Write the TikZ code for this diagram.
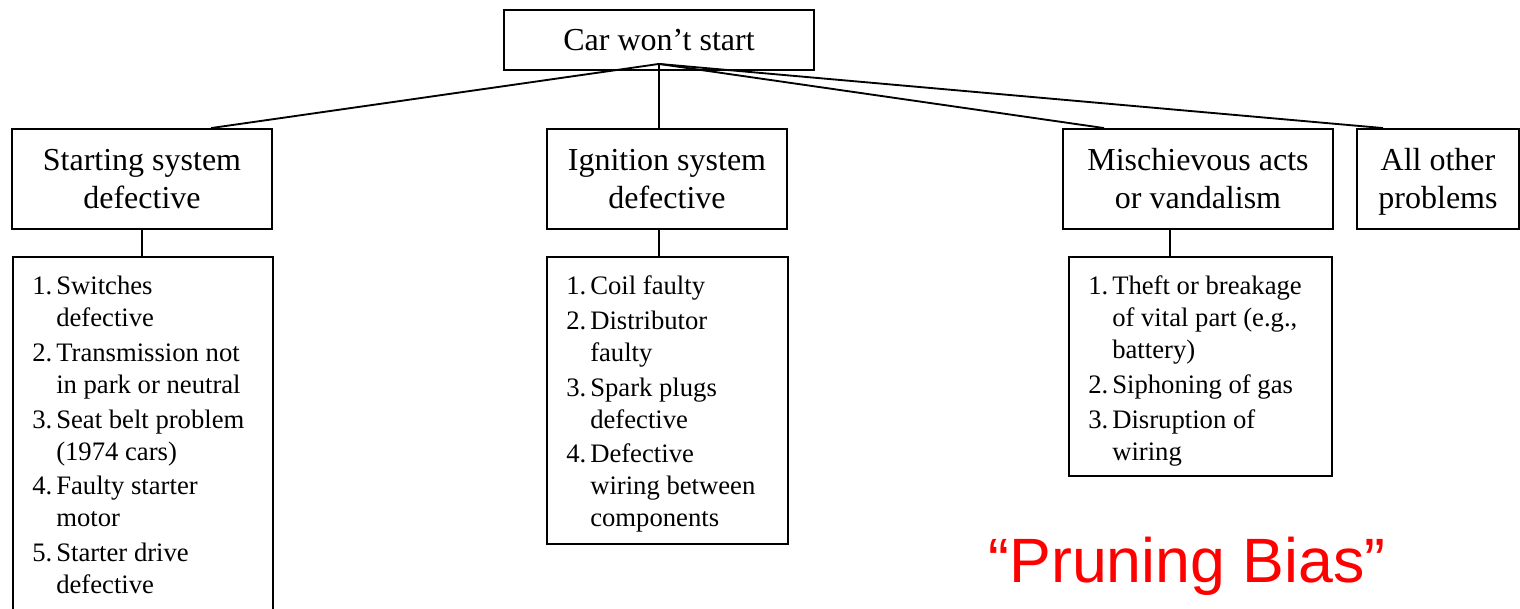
\documentclass[tikz,border=0pt]{standalone}
\usepackage{fontspec}
\setmainfont{Liberation Serif}
\newfontfamily\redfont{Liberation Sans}
\usetikzlibrary{calc}
\newcommand{\tstrut}{\rule[-0.3\baselineskip]{0pt}{\dimexpr0.7\baselineskip+0.3\baselineskip+4.5pt\relax}}
\tikzset{
  box/.style={draw, line width=1.4pt, inner sep=0pt, align=center,
    font=\fontsize{24}{28.5}\selectfont},
  listbox/.style={draw, line width=1.4pt, inner sep=0pt, anchor=north west},
  listtext/.style={inner sep=0pt, anchor=north west, align=left,
    font=\fontsize{20}{24}\selectfont},
  conn/.style={line width=1.4pt}
}
\begin{document}
\begin{tikzpicture}[x=0.75pt, y=-0.75pt]
\useasboundingbox (0,0) rectangle (1520,608);
\begin{scope}
\clip (0,0) rectangle (1520,608);
% top
\node[box, minimum width=232.5pt, minimum height=45pt] (top) at (659,40) {\tstrut Car won’t start};
% level 1
\node[box, minimum width=195pt, minimum height=75pt] (st) at (142,179) {\tstrut Starting system\\defective\strut};
\node[box, minimum width=180pt, minimum height=75pt] (ig) at (667,179) {\tstrut Ignition system\\defective\strut};
\node[box, minimum width=202.5pt, minimum height=75pt] (mi) at (1198,179) {\tstrut Mischievous acts\\or vandalism\strut};
\node[box, minimum width=121.5pt, minimum height=75pt] (ao) at (1438,179) {\tstrut All other\\problems\strut};
% list boxes
\node[listbox, minimum width=195pt, minimum height=300pt] (l1) at (12,256) {};
\node[listbox, minimum width=180.75pt, minimum height=215.25pt] (l2) at (546,256) {};
\node[listbox, minimum width=197.25pt, minimum height=164.25pt] (l3) at (1068,256) {};
% list texts
\node[listtext] (t1) at (32,272) {%
\begin{tabular}{@{}r@{\hspace{3pt}}l@{}}
1. & Switches\\ & defective\\[2pt]
2. & Transmission not\\ & in park or neutral\\[2pt]
3. & Seat belt problem\\ & (1974 cars)\\[2pt]
4. & Faulty starter\\ & motor\\[2pt]
5. & Starter drive\\ & defective
\end{tabular}};
\node[listtext] (t2) at (566,272) {%
\begin{tabular}{@{}r@{\hspace{3pt}}l@{}}
1. & Coil faulty\\[2pt]
2. & Distributor\\ & faulty\\[2pt]
3. & Spark plugs\\ & defective\\[2pt]
4. & Defective\\ & wiring between\\ & components
\end{tabular}};
\node[listtext] (t3) at (1088,272) {%
\begin{tabular}{@{}r@{\hspace{3pt}}l@{}}
1. & Theft or breakage\\ & of vital part (e.g.,\\ & battery)\\[2pt]
2. & Siphoning of gas\\[2pt]
3. & Disruption of\\ & wiring
\end{tabular}};
% connectors
\coordinate (o) at ($(top.south)+(0,-7)$);
\draw[conn] (o) -- ($(st.north west)+(200,0)$);
\draw[conn] (o) -- (o |- ig.north);
\draw[conn] (o) -- ($(mi.north west)+(42,0)$);
\draw[conn] (o) -- ($(ao.north west)+(27,0)$);
\draw[conn] (st.south) -- (st.south |- l1.north);
\draw[conn] (o |- ig.south) -- (o |- l2.north);
\draw[conn] ($(mi.south)+(-28,0)$) -- ($(mi.south |- l3.north)+(-28,0)$);
% label
\node[text=red, font=\redfont\fontsize{47}{50}\selectfont, anchor=base, inner sep=0pt] (pb) at (1187,582) {“Pruning Bias”};
\end{scope}
\end{tikzpicture}
\end{document}
